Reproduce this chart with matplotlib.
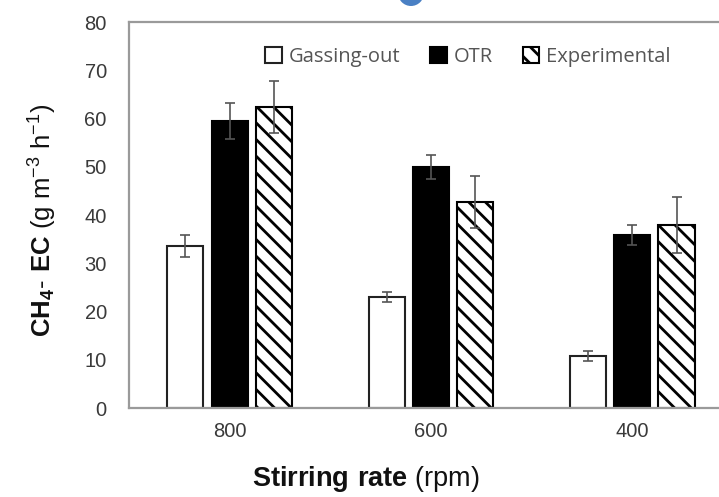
import numpy as np
import matplotlib
matplotlib.use("Agg")
import matplotlib.pyplot as plt
from matplotlib.patches import Circle

# ---------- DATA ----------
rates = ["800", "600", "400"]
gassing_out = [33.5, 23.0, 10.8]
gassing_err = [2.3, 1.1, 1.0]
otr = [59.5, 50.0, 35.9]
otr_err = [3.8, 2.5, 2.1]
experimental = [62.4, 42.7, 38.0]
experimental_err = [5.4, 5.3, 5.8]

# ---------- STYLE ----------
plt.rcParams['font.family'] = ['Liberation Sans', 'DejaVu Sans']
plt.rcParams['mathtext.fontset'] = 'custom'
plt.rcParams['mathtext.rm'] = 'Liberation Sans'
plt.rcParams['mathtext.bf'] = 'Liberation Sans:bold'
plt.rcParams['hatch.linewidth'] = 2.0

fig = plt.figure(figsize=(7.19, 4.97), dpi=100)
ax = fig.add_axes([0.1794, 0.179, 0.840, 0.7767])

x = np.arange(len(rates))
w = 0.18
step = 0.22
err_kw = dict(ecolor='#555555', elinewidth=1.2, capsize=3.5, capthick=1.2)

ax.bar(x - step, gassing_out, w, yerr=gassing_err, color='white',
       edgecolor='#222222', linewidth=1.5, label='Gassing-out', error_kw=err_kw)
ax.bar(x, otr, w, yerr=otr_err, color='black',
       edgecolor='black', linewidth=1.5, label='OTR', error_kw=err_kw)
ax.bar(x + step, experimental, w, yerr=experimental_err, color='white',
       edgecolor='black', hatch='\\\\', linewidth=1.5, label='Experimental',
       error_kw=err_kw)

ax.set_xlim(-0.5, 2.5)
ax.set_ylim(0, 80)
ax.set_yticks(np.arange(0, 81, 10))
ax.set_xticks(x)
ax.set_xticklabels(rates)
ax.tick_params(axis='both', length=0, labelsize=14.5, labelcolor='#3a3a3a')
ax.tick_params(axis='y', pad=16)
ax.tick_params(axis='x', pad=10)

for side in ['left', 'bottom', 'top', 'right']:
    ax.spines[side].set_color('#9a9a9a')
    ax.spines[side].set_linewidth(1.6)

ax.legend(loc='center', bbox_to_anchor=(468 / 719, 1 - 57 / 497),
          bbox_transform=fig.transFigure, ncol=3, frameon=False,
          handlelength=0.8, handleheight=0.8, handletextpad=0.35,
          columnspacing=1.5,
          prop={'family': 'Open Sans', 'size': 14.5}, labelcolor='#555555')

# axis titles
fig.text(42 / 719, 1 - 220 / 497,
         r'$\mathbf{CH_4\text{-}\ EC}$ (g m$^{-3}$ h$^{-1}$)',
         rotation=90, ha='center', va='center', fontsize=18.5, color='#111111')
fig.text(366 / 719, 1 - 479 / 497, r'$\mathbf{Stirring\ rate}$ (rpm)',
         ha='center', va='center', fontsize=19.5, color='#111111')

# blue marker peeking in at the top
fig.patches.append(Circle((4.11, 5.04), 0.13, transform=fig.dpi_scale_trans,
                          facecolor='#4a80c4', edgecolor='none'))

fig.savefig("out.png", dpi=100)
